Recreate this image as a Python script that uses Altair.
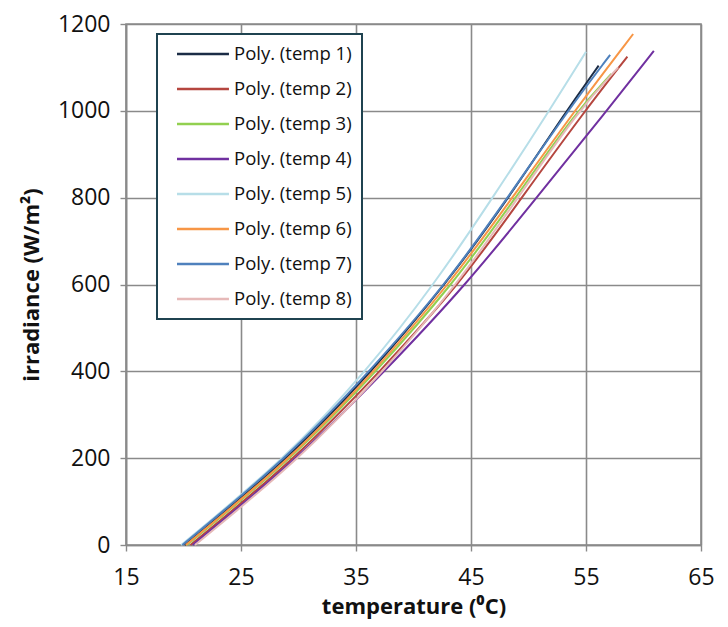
import altair as alt
import pandas as pd

# Readings: x (temperature) where each trend line crosses each irradiance level
levels = [0, 200, 400, 600, 800, 1000]
series_names = ["Poly. (temp 1)", "Poly. (temp 2)", "Poly. (temp 3)", "Poly. (temp 4)",
                "Poly. (temp 5)", "Poly. (temp 6)", "Poly. (temp 7)", "Poly. (temp 8)"]
temp1_x = [20.1, 29.2, 36.4, 42.8, 48.3, 53.3]
temp2_x = [20.6, 29.8, 37.1, 44.0, 49.4, 54.9]
temp3_x = [20.3, 29.5, 36.8, 43.4, 48.9, 54.2]
temp4_x = [20.8, 30.0, 37.5, 44.6, 50.7, 56.8]
temp5_x = [19.8, 28.9, 35.9, 41.8, 46.9, 51.8]
temp6_x = [20.2, 29.4, 36.6, 43.1, 48.6, 54.0]
temp7_x = [19.9, 29.0, 36.2, 42.8, 48.2, 53.4]
temp8_x = [21.0, 30.2, 37.4, 43.8, 49.1, 54.3]
# end points of each line (temperature, irradiance)
end_x = [56.1, 58.6, 57.2, 60.9, 55.0, 59.1, 57.1, 57.8]
end_y = [1104, 1125, 1085, 1138, 1136, 1177, 1129, 1100]
colors = ["#1b2c46", "#b5463f", "#92d050", "#7030a0", "#b7dee8", "#f79646", "#4f81bd", "#e6b9b8"]

all_x = [temp1_x, temp2_x, temp3_x, temp4_x, temp5_x, temp6_x, temp7_x, temp8_x]
rows = []
for name, xs, ex, ey in zip(series_names, all_x, end_x, end_y):
    for i, (xv, yv) in enumerate(zip(xs, levels)):
        rows.append({"series": name, "temperature": xv, "irradiance": yv, "order": i})
    rows.append({"series": name, "temperature": ex, "irradiance": ey, "order": len(xs)})
df = pd.DataFrame(rows)

FONT = "Open Sans"

chart = alt.Chart(df).mark_line(strokeWidth=2, interpolate="basis").encode(
    x=alt.X("temperature:Q",
            scale=alt.Scale(domain=[15, 65], nice=False),
            axis=alt.Axis(values=[15, 25, 35, 45, 55, 65], title="temperature (\u2070C)",
                          format="d", labelFlush=False, labelFont=FONT, titleFont=FONT,
                          labelFontSize=23, titleFontSize=22, titleFontWeight="bold",
                          labelPadding=15, titlePadding=7, tickSize=6)),
    y=alt.Y("irradiance:Q",
            scale=alt.Scale(domain=[0, 1200], nice=False),
            axis=alt.Axis(values=[0, 200, 400, 600, 800, 1000, 1200], title="irradiance (W/m\u00b2)",
                          format="d", labelFlush=False, labelFont=FONT, titleFont=FONT,
                          labelFontSize=23, titleFontSize=22, titleFontWeight="bold",
                          labelPadding=10, titlePadding=14, tickSize=6)),
    color=alt.Color("series:N",
                    scale=alt.Scale(domain=series_names, range=colors),
                    legend=alt.Legend(title=None, orient="none", legendX=31, legendY=10,
                                      symbolType="M0,0H6", symbolSize=300, symbolStrokeWidth=2.5,
                                      labelFontSize=18.5, rowPadding=15, labelFont=FONT,
                                      strokeColor="#1f4350", fillColor="white",
                                      padding=10, labelOffset=47)),
    order="order:Q",
).properties(
    width=575, height=521,
    padding={"left": 118, "top": 16, "right": 19, "bottom": 74},
    autosize=alt.AutoSizeParams(type="none"),
).configure(
    background="white", font=FONT,
).configure_axis(
    labelFont=FONT, titleFont=FONT, labelColor="#111111", titleColor="#111111",
    gridColor="#8a8a8a", gridWidth=1.6, domainColor="#8a8a8a", tickColor="#8a8a8a",
    domainWidth=1.6, tickWidth=1.4,
).configure_legend(
    labelFont=FONT, labelColor="#111111", strokeWidth=2,
).configure_view(
    stroke="#8a8a8a", strokeWidth=1.6,
)

chart.save("out.html", embed_options={"renderer": "svg", "actions": False})
